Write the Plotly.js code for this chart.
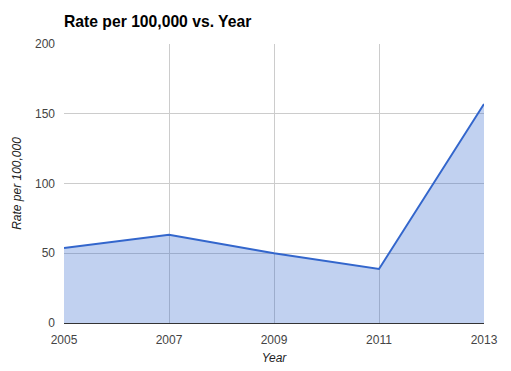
<!DOCTYPE html>
<html>
<head>
<meta charset="utf-8">
<script src="https://cdn.plot.ly/plotly-3.0.1.min.js"></script>
<style>html,body{margin:0;padding:0;background:#fff;}#chart{width:511px;height:371px;}</style>
</head>
<body>
<div id="chart"></div>
<script>
const years = [2005, 2007, 2009, 2011, 2013];
const rates = [53.8, 63.3, 50, 38.7, 157];
const yTicks = [0, 50, 100, 150, 200];

const trace = {
  x: years,
  y: rates,
  type: 'scatter',
  mode: 'lines',
  fill: 'tozeroy',
  fillcolor: 'rgba(51,102,204,0.3)',
  line: {color: '#3366cc', width: 2},
  hoverinfo: 'x+y'
};

const layout = {
  width: 511,
  height: 371,
  margin: {l: 64, r: 27, t: 44, b: 48},
  paper_bgcolor: '#fff',
  plot_bgcolor: '#fff',
  showlegend: false,
  font: {family: 'Arial, "Liberation Sans", sans-serif', color: '#444', size: 12},
  title: {
    text: '<b>Rate per 100,000 vs. Year</b>',
    x: 64/511, xanchor: 'left', xref: 'container',
    y: 1 - 22/371, yanchor: 'middle', yref: 'container',
    font: {family: 'Arial, "Liberation Sans", sans-serif', size: 15.7, color: '#000'}
  },
  xaxis: {
    range: [2005, 2013],
    tickvals: years,
    ticktext: years.map(String),
    showgrid: true,
    gridcolor: '#ccc',
    showline: true,
    linecolor: '#333',
    linewidth: 1,
    zeroline: false,
    ticks: '',
    ticklabelstandoff: 6,
    tickfont: {size: 12, color: '#444'},
    title: {text: '<i>Year</i>', font: {size: 12, color: '#222'}, standoff: 7}
  },
  yaxis: {
    range: [0, 200],
    tickvals: yTicks,
    ticktext: yTicks.map(String),
    showgrid: true,
    gridcolor: '#ccc',
    zeroline: false,
    showline: false,
    ticks: '',
    ticklabelstandoff: 8,
    tickfont: {size: 12, color: '#444'},
    title: {text: '<i>Rate per 100,000</i>', font: {size: 12, color: '#222'}, standoff: 10}
  }
};

Plotly.newPlot('chart', [trace], layout, {displayModeBar: false, staticPlot: true});
</script>
</body>
</html>
